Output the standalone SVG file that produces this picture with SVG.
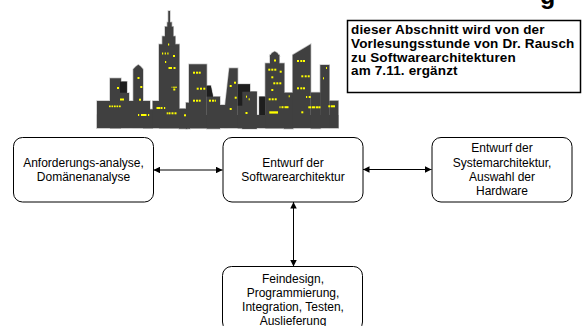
<svg xmlns="http://www.w3.org/2000/svg" xmlns:xlink="http://www.w3.org/1999/xlink" width="582" height="326" viewBox="0 0 582 326">
  <style>
    .box { fill: #ffffff; stroke: #000000; stroke-width: 1; }
    .lbl { font-family: "Liberation Sans", Arial, sans-serif; font-size: 12px; fill: #000000; text-anchor: middle; }
    .note { font-family: "Liberation Sans", Arial, sans-serif; font-size: 13.5px; letter-spacing: 0.15px; font-weight: bold; fill: #000000; }
    .conn { stroke: #000000; stroke-width: 1; fill: none; marker-start: url(#head); marker-end: url(#head); }
    .dark { fill: #1e1e1e; }
    .gray { fill: #404040; }
    .w { fill: #ffff00; }
  </style>
  <defs>
    <marker id="head" viewBox="0 0 10 10" refX="10" refY="5" markerWidth="6.5" markerHeight="6.5" markerUnits="userSpaceOnUse" orient="auto-start-reverse">
      <path d="M0,0 L10,5 L0,10 Z" fill="#000000"/>
    </marker>
    <!-- skyline silhouette, used once for the light edge and once for the body -->
    <g id="city">
      <rect x="97" y="115" width="241.3" height="13"/>
      <rect x="97" y="101" width="53" height="27"/>
      <rect x="110" y="78.3" width="11" height="50"/>
      <rect x="120" y="81.7" width="7" height="12"/>
      <rect x="120" y="93" width="9" height="35"/>
      <polygon points="133.3,128 133.3,69.3 136,66.5 138.3,64.8 140.5,66.5 143,69.3 143,128"/>
      <rect x="143" y="109.3" width="10" height="19"/>
      <rect x="152.7" y="101" width="7" height="27"/>
      <rect x="159" y="44.3" width="20.3" height="84"/>
      <rect x="162.3" y="36.3" width="13" height="10"/>
      <rect x="165" y="26.7" width="8.3" height="12"/>
      <rect x="167.3" y="22.3" width="4.4" height="6"/>
      <rect x="168.3" y="11" width="1.7" height="12"/>
      <rect x="179" y="108.7" width="8" height="20"/>
      <rect x="186" y="102.7" width="4" height="26"/>
      <rect x="189" y="64.3" width="17.7" height="64"/>
      <polygon points="206.7,85.7 210.7,85.7 213,96.7 206.7,96.7"/>
      <rect x="206.7" y="96.7" width="13.3" height="32"/>
      <rect x="219" y="105" width="8" height="23"/>
      <polygon points="224.8,128 224.8,108 229.3,68.3 237.7,68.3 237.7,128"/>
      <rect x="237.7" y="84.3" width="12.3" height="44"/>
      <rect x="242.3" y="91.7" width="14.4" height="37"/>
      <rect x="259.3" y="96.7" width="6" height="31.3"/>
      <rect x="265.3" y="63.3" width="19" height="65"/>
      <rect x="270" y="55" width="9.3" height="10"/>
      <polygon points="270,56 272,53 274.7,51.5 277.3,53 279.3,56"/>
      <rect x="284" y="92.7" width="9.3" height="36"/>
      <polygon points="292.7,128 292.7,55 310.7,44.3 310.7,128"/>
      <rect x="310.7" y="92.5" width="10" height="36"/>
      <rect x="320.3" y="65" width="9" height="63"/>
      <rect x="329.3" y="100.8" width="9" height="27.2"/>
    </g>
  </defs>

  <!-- heading descender at the top edge -->
  <text x="540" y="4" font-family="'Liberation Sans', Arial, sans-serif" font-size="25" font-weight="bold" fill="#000000">g</text>

  <!-- skyline -->
  <g id="skyline">
    <use xlink:href="#city" fill="#c4c4c4" stroke="#c4c4c4" stroke-width="1.4"/>
    <use xlink:href="#city" fill="#404040"/>
    <rect class="dark" x="120" y="81.7" width="6.7" height="11"/>
    <polygon class="dark" points="206.7,85.7 210.7,85.7 213,96.7 206.7,96.7"/>
    <rect class="dark" x="237.7" y="84.3" width="12.3" height="21.4"/>
    <rect class="gray" x="242.3" y="91.7" width="14.4" height="37"/>
    <rect class="dark" x="259.3" y="96.7" width="6" height="18.3"/>
    <g id="windows">
      <rect class="w" x="117" y="87" width="2" height="2"/>
      <rect class="w" x="120" y="98.5" width="4" height="2"/>
      <rect class="w" x="109" y="105.5" width="1.7" height="1.7"/>
      <rect class="w" x="111.5" y="105.5" width="1.7" height="1.7"/>
      <rect class="w" x="114" y="105.5" width="1.7" height="1.7"/>
      <rect class="w" x="116.5" y="105.5" width="1.7" height="1.7"/>
      <rect class="w" x="119" y="105.5" width="1.7" height="1.7"/>
      <rect class="w" x="137.5" y="77" width="2" height="2"/>
      <rect class="w" x="140.3" y="86" width="2" height="2"/>
      <rect class="w" x="139" y="98.7" width="2" height="2"/>
      <rect class="w" x="138" y="114" width="1.2" height="2"/>
      <rect class="w" x="141" y="114" width="5.5" height="2"/>
      <rect class="w" x="148" y="114" width="1.2" height="2"/>
      <rect class="w" x="168" y="43.5" width="1.2" height="2"/>
      <rect class="w" x="162" y="52.5" width="1.2" height="2"/>
      <rect class="w" x="164.7" y="52.5" width="1.2" height="2"/>
      <rect class="w" x="167.3" y="52.5" width="1.2" height="2"/>
      <rect class="w" x="173" y="55" width="2" height="2"/>
      <rect class="w" x="165" y="61" width="1.2" height="2"/>
      <rect class="w" x="168.5" y="67" width="3.5" height="2"/>
      <rect class="w" x="173.5" y="67" width="2" height="2"/>
      <rect class="w" x="171.5" y="86.7" width="1" height="1"/>
      <rect class="w" x="173" y="86.7" width="4" height="1"/>
      <rect class="w" x="173.3" y="88.5" width="2" height="2"/>
      <rect class="w" x="156.5" y="107" width="3.5" height="2"/>
      <rect class="w" x="160.5" y="107" width="2" height="2"/>
      <rect class="w" x="164" y="107" width="1.2" height="2"/>
      <rect class="w" x="166.7" y="112.3" width="1.2" height="2"/>
      <rect class="w" x="168.5" y="112.3" width="2" height="2"/>
      <rect class="w" x="171.5" y="112.3" width="2" height="2"/>
      <rect class="w" x="174.5" y="112.3" width="2" height="2"/>
      <rect class="w" x="184" y="114.3" width="2" height="2"/>
      <rect class="w" x="193" y="71.7" width="2" height="2"/>
      <rect class="w" x="196" y="71.7" width="2" height="2"/>
      <rect class="w" x="198.7" y="71.7" width="2" height="2"/>
      <rect class="w" x="196.7" y="87.7" width="2" height="2"/>
      <rect class="w" x="200" y="87.7" width="2" height="2"/>
      <rect class="w" x="203.3" y="87.7" width="2" height="2"/>
      <rect class="w" x="193" y="99.7" width="2" height="2"/>
      <rect class="w" x="196" y="99.7" width="2" height="2"/>
      <rect class="w" x="198.7" y="99.7" width="2" height="2"/>
      <rect class="w" x="209" y="99.7" width="2" height="2"/>
      <rect class="w" x="212" y="99.7" width="2" height="2"/>
      <rect class="w" x="214.7" y="99.7" width="1.2" height="2"/>
      <rect class="w" x="234" y="81.7" width="2" height="2"/>
      <rect class="w" x="229.7" y="85" width="2" height="2"/>
      <rect class="w" x="234.7" y="96.7" width="2" height="2"/>
      <rect class="w" x="229.7" y="108" width="2" height="2"/>
      <rect class="w" x="246" y="95.7" width="1" height="2"/>
      <rect class="w" x="248.7" y="98.3" width="1" height="2"/>
      <rect class="w" x="245.5" y="112" width="2" height="2"/>
      <rect class="w" x="274" y="59.5" width="2" height="2"/>
      <rect class="w" x="268.3" y="68.7" width="2" height="2"/>
      <rect class="w" x="271.3" y="68.7" width="2" height="2"/>
      <rect class="w" x="274.3" y="68.7" width="2" height="2"/>
      <rect class="w" x="279.7" y="70.7" width="2" height="2"/>
      <rect class="w" x="271.3" y="76.3" width="2" height="2"/>
      <rect class="w" x="273.3" y="82.3" width="2" height="2"/>
      <rect class="w" x="276.3" y="82.3" width="2" height="2"/>
      <rect class="w" x="279.3" y="82.3" width="2" height="2"/>
      <rect class="w" x="271.3" y="89" width="2" height="2"/>
      <rect class="w" x="268.7" y="98.3" width="2" height="2"/>
      <rect class="w" x="271.7" y="98.3" width="2" height="2"/>
      <rect class="w" x="274.7" y="98.3" width="2" height="2"/>
      <rect class="w" x="269.3" y="111.3" width="8.7" height="2.3"/>
      <rect class="w" x="288.7" y="95.3" width="1" height="2"/>
      <rect class="w" x="279.5" y="106.2" width="1" height="2"/>
      <rect class="w" x="281.5" y="106.2" width="2" height="2"/>
      <rect class="w" x="284.5" y="106.2" width="4" height="2"/>
      <rect class="w" x="297" y="60" width="2" height="2"/>
      <rect class="w" x="300.3" y="60" width="2" height="2"/>
      <rect class="w" x="303" y="60" width="2" height="2"/>
      <rect class="w" x="301.3" y="75.3" width="2" height="2"/>
      <rect class="w" x="304.7" y="75.3" width="2" height="2"/>
      <rect class="w" x="307.7" y="75.3" width="2" height="2"/>
      <rect class="w" x="297" y="87.3" width="2" height="2"/>
      <rect class="w" x="300.3" y="87.3" width="2" height="2"/>
      <rect class="w" x="303" y="87.3" width="2" height="2"/>
      <rect class="w" x="306" y="96" width="1.2" height="2"/>
      <rect class="w" x="308.7" y="96" width="2" height="2"/>
      <rect class="w" x="301.3" y="111.3" width="2" height="2"/>
      <rect class="w" x="308.3" y="106.3" width="3" height="2"/>
      <rect class="w" x="312" y="106.3" width="3" height="2"/>
      <rect class="w" x="315.7" y="106.3" width="3" height="2"/>
      <rect class="w" x="319" y="106.3" width="1.5" height="2"/>
      <rect class="w" x="326" y="67" width="1" height="2"/>
      <rect class="w" x="323" y="77.3" width="1" height="2"/>
      <rect class="w" x="328.3" y="105.3" width="2" height="2"/>
      <rect class="w" x="331" y="105.3" width="4" height="2"/>
    </g>
  </g>

  <!-- note box -->
  <g id="note">
    <rect x="347.5" y="20.5" width="233" height="72" fill="#ffffff" stroke="#000000" stroke-width="1.5"/>
    <text class="note" x="351" y="34.3">dieser Abschnitt wird von der</text>
    <text class="note" x="351" y="47.9">Vorlesungsstunde von Dr. Rausch</text>
    <text class="note" x="351" y="61.5">zu Softwarearchitekturen</text>
    <text class="note" x="351" y="75.1">am 7.11. ergänzt</text>
  </g>

  <!-- connectors -->
  <g id="connectors">
    <line class="conn" x1="153.5" y1="170" x2="222.5" y2="170"/>
    <line class="conn" x1="363" y1="169.5" x2="431.5" y2="169.5"/>
    <line class="conn" x1="293.5" y1="202" x2="293.5" y2="266.5"/>
  </g>

  <g id="anforderung">
    <rect class="box" x="13.5" y="137.5" width="140" height="64.5" rx="9"/>
    <text class="lbl" x="83.5" y="166.6">Anforderungs-analyse,</text>
    <text class="lbl" x="83.5" y="181.2">Domänenanalyse</text>
  </g>

  <g id="softwarearchitektur">
    <rect class="box" x="223" y="137.5" width="140" height="64.5" rx="9"/>
    <text class="lbl" x="293" y="166.6">Entwurf der</text>
    <text class="lbl" x="293" y="181.2">Softwarearchitektur</text>
  </g>

  <g id="systemarchitektur">
    <rect class="box" x="432" y="137.5" width="140" height="64.5" rx="9"/>
    <text class="lbl" x="502" y="152.2">Entwurf der</text>
    <text class="lbl" x="502" y="166.6">Systemarchitektur,</text>
    <text class="lbl" x="502" y="181">Auswahl der</text>
    <text class="lbl" x="502" y="195.4">Hardware</text>
  </g>

  <g id="feindesign">
    <rect class="box" x="222.5" y="266.5" width="140" height="64.5" rx="9"/>
    <text class="lbl" x="293" y="283.2">Feindesign,</text>
    <text class="lbl" x="293" y="297.1">Programmierung,</text>
    <text class="lbl" x="293" y="311">Integration, Testen,</text>
    <text class="lbl" x="293" y="324.9">Auslieferung</text>
  </g>
</svg>
